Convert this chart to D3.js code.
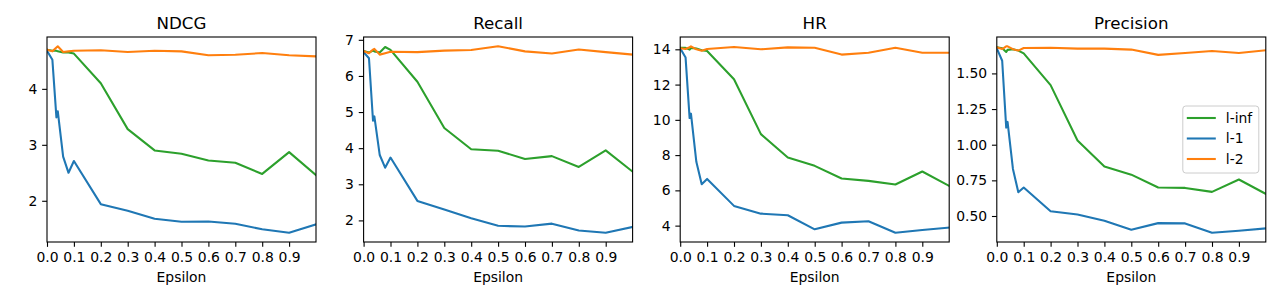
<!DOCTYPE html>
<html lang="en">
  <head>
    <meta charset="UTF-8" />
    <title>Epsilon</title>
    <style>
      body {
        margin: 0;
        background: #fff;
      }
      svg text {
        font-family: "DejaVu Sans", sans-serif;
        fill: #000;
      }
    </style>
    <script src="https://cdn.jsdelivr.net/npm/d3@7"></script>
  </head>
  <body>
    <div id="chart"></div>
    <script>
      // x values
      const epsilon = [0, 0.02, 0.035, 0.04, 0.06, 0.08, 0.1, 0.2, 0.3, 0.4, 0.5, 0.6, 0.7, 0.8, 0.9, 1.0];
      const xTicks = [0, 0.1, 0.2, 0.3, 0.4, 0.5, 0.6, 0.7, 0.8, 0.9];

      const seriesNames = ["l-inf", "l-1", "l-2"];
      const colors = ["#2ca02c", "#1f77b4", "#ff7f0e"];

      // NDCG
      const ndcgInf = [4.7, 4.68, 4.68, 4.67, 4.65, 4.65, 4.63, 4.1, 3.28, 2.9, 2.84, 2.72, 2.68, 2.48, 2.87, 2.46];
      const ndcgL1 = [4.68, 4.52, 3.49, 3.6, 2.79, 2.5, 2.71, 1.94, 1.82, 1.68, 1.625, 1.63, 1.59, 1.49, 1.43, 1.58];
      const ndcgL2 = [4.7, 4.67, 4.74, 4.76, 4.66, 4.67, 4.68, 4.69, 4.66, 4.68, 4.67, 4.6, 4.61, 4.64, 4.6, 4.58];
      const ndcgTicks = [2, 3, 4];

      // Recall
      const recallInf = [6.69, 6.65, 6.7, 6.68, 6.65, 6.8, 6.72, 5.84, 4.56, 3.97, 3.93, 3.7, 3.78, 3.48, 3.94, 3.35];
      const recallL1 = [6.66, 6.49, 4.76, 4.88, 3.81, 3.46, 3.74, 2.54, 2.3, 2.06, 1.85, 1.83, 1.91, 1.72, 1.66, 1.82];
      const recallL2 = [6.69, 6.63, 6.73, 6.75, 6.59, 6.63, 6.67, 6.66, 6.7, 6.72, 6.82, 6.68, 6.62, 6.73, 6.66, 6.59];
      const recallTicks = [2, 3, 4, 5, 6, 7];

      // HR
      const hrInf = [14.08, 14.08, 13.98, 14.08, 14.05, 13.95, 13.9, 12.3, 9.19, 7.86, 7.39, 6.67, 6.54, 6.33, 7.07, 6.25];
      const hrL1 = [14.06, 13.53, 10.1, 10.35, 7.62, 6.35, 6.65, 5.12, 4.68, 4.59, 3.79, 4.17, 4.25, 3.6, 3.75, 3.89];
      const hrL2 = [14.06, 14.02, 14.12, 14.17, 14.0, 13.92, 14.02, 14.13, 14.0, 14.11, 14.09, 13.7, 13.81, 14.09, 13.81, 13.81];
      const hrTicks = [4, 6, 8, 10, 12, 14];

      // Precision
      const precInf = [1.683, 1.676, 1.65, 1.665, 1.67, 1.66, 1.64, 1.418, 1.03, 0.847, 0.79, 0.7, 0.697, 0.669, 0.756, 0.655];
      const precL1 = [1.676, 1.589, 1.12, 1.16, 0.83, 0.667, 0.7, 0.533, 0.51, 0.467, 0.404, 0.45, 0.448, 0.383, 0.397, 0.413];
      const precL2 = [1.683, 1.671, 1.69, 1.69, 1.67, 1.66, 1.678, 1.68, 1.674, 1.674, 1.667, 1.63, 1.643, 1.657, 1.643, 1.662];
      const precTicks = [0.5, 0.75, 1.0, 1.25, 1.5];

      const panels = [
        { title: "NDCG", series: [ndcgInf, ndcgL1, ndcgL2], ticks: ndcgTicks, fmt: d3.format("d") },
        { title: "Recall", series: [recallInf, recallL1, recallL2], ticks: recallTicks, fmt: d3.format("d") },
        { title: "HR", series: [hrInf, hrL1, hrL2], ticks: hrTicks, fmt: d3.format("d") },
        { title: "Precision", series: [precInf, precL1, precL2], ticks: precTicks, fmt: d3.format(".2f"), legend: true },
      ];

      const W = 1280,
        H = 300;
      const plotTop = 37,
        plotBottom = 242,
        panelW = 269,
        left0 = 47,
        step = 316.6;
      const tickLen = 4.86,
        tickPad = 4.86;

      const svg = d3.select("#chart").append("svg").attr("width", W).attr("height", H);

      panels.forEach((p, i) => {
        const left = left0 + i * step;
        const g = svg.append("g").attr("transform", "translate(" + left + "," + plotTop + ")");
        const h = plotBottom - plotTop;

        const x = d3.scaleLinear().domain([0, 1]).range([0, panelW]);
        const all = p.series.flat();
        const lo = d3.min(all),
          hi = d3.max(all),
          pad = (hi - lo) * 0.05;
        const y = d3.scaleLinear().domain([lo - pad, hi + pad]).range([h, 0]);

        // lines
        const line = d3
          .line()
          .x((d, j) => x(epsilon[j]))
          .y((d) => y(d));

        const clipId = "clip" + i;
        g.append("clipPath").attr("id", clipId).append("rect").attr("width", panelW).attr("height", h);

        p.series.forEach((s, k) => {
          g.append("path")
            .datum(s)
            .attr("clip-path", "url(#" + clipId + ")")
            .attr("fill", "none")
            .attr("stroke", colors[k])
            .attr("stroke-width", 2.08)
            .attr("stroke-linejoin", "round")
            .attr("stroke-linecap", "square")
            .attr("d", line);
        });

        // axes
        const xAxis = g
          .append("g")
          .attr("transform", "translate(0," + h + ")")
          .call(d3.axisBottom(x).tickValues(xTicks).tickFormat(d3.format(".1f")).tickSize(tickLen).tickPadding(tickPad));
        const yAxis = g
          .append("g")
          .call(d3.axisLeft(y).tickValues(p.ticks).tickFormat(p.fmt).tickSize(tickLen).tickPadding(tickPad));

        [xAxis, yAxis].forEach((a) => {
          a.select(".domain").remove();
          a.selectAll(".tick line").attr("stroke", "#000").attr("stroke-width", 1.1);
          a.selectAll(".tick text")
            .attr("font-size", "13.9px")
            .attr("font-family", "DejaVu Sans")
            .attr("fill", "#000");
        });

        // frame
        g.append("rect")
          .attr("width", panelW)
          .attr("height", h)
          .attr("fill", "none")
          .attr("stroke", "#000")
          .attr("stroke-width", 1.1);

        // title
        g.append("text")
          .attr("x", panelW / 2)
          .attr("y", -8.5)
          .attr("text-anchor", "middle")
          .attr("font-size", "16.7px")
          .text(p.title);

        // x label
        g.append("text")
          .attr("x", panelW / 2)
          .attr("y", h + 40)
          .attr("text-anchor", "middle")
          .attr("font-size", "13.9px")
          .text("Epsilon");

        if (p.legend) {
          const lg = g.append("g").attr("transform", "translate(" + (panelW - 83) + "," + 69 + ")");
          lg.append("rect")
            .attr("width", 76)
            .attr("height", 67)
            .attr("rx", 3)
            .attr("fill", "#fff")
            .attr("fill-opacity", 0.8)
            .attr("stroke", "#ccc")
            .attr("stroke-width", 1);
          seriesNames.forEach((name, k) => {
            const yy = 12 + k * 20.5;
            lg.append("line")
              .attr("x1", 4)
              .attr("x2", 33)
              .attr("y1", yy)
              .attr("y2", yy)
              .attr("stroke", colors[k])
              .attr("stroke-width", 2.08);
            lg.append("text")
              .attr("x", 43)
              .attr("y", yy)
              .attr("dy", "0.35em")
              .attr("font-size", "13.9px")
              .text(name);
          });
        }
      });
    </script>
  </body>
</html>
